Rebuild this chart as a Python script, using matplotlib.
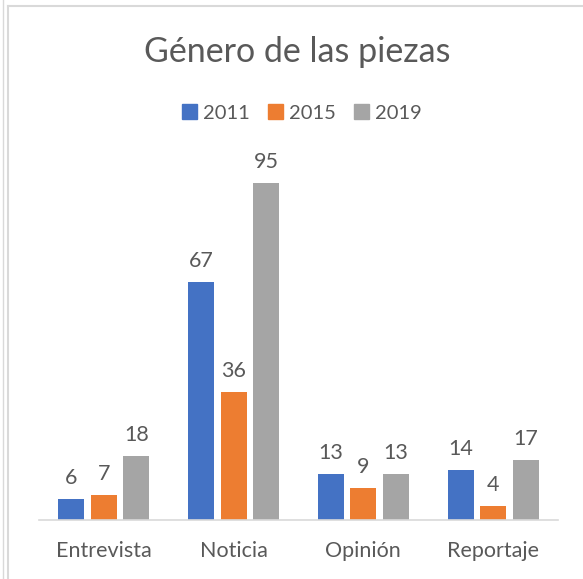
import matplotlib
matplotlib.use("Agg")
import matplotlib.pyplot as plt
from matplotlib.lines import Line2D
import numpy as np

categories = ["Entrevista", "Noticia", "Opinión", "Reportaje"]
series_names = ["2011", "2015", "2019"]
values_2011 = [6, 67, 13, 14]
values_2015 = [7, 36, 9, 4]
values_2019 = [18, 95, 13, 17]
colors = ["#4472C4", "#ED7D31", "#A5A5A5"]

plt.rcParams['font.family'] = ['Lato', 'DejaVu Sans']
text_color = "#595959"

fig = plt.figure(figsize=(5.83, 5.79), dpi=100)
ax = fig.add_axes([39/583, 1-520/579, (558-39)/583, (520-165)/579])

x = np.arange(len(categories))
width = 0.2
step = 0.25
for i, (vals, name, c) in enumerate(zip([values_2011, values_2015, values_2019], series_names, colors)):
    pos = x + (i - 1) * step
    bars = ax.bar(pos, vals, width, color=c, label=name)
    for b, v in zip(bars, vals):
        ax.annotate(str(v), (b.get_x() + b.get_width()/2, v), xytext=(0, 8),
                    textcoords="offset points", ha="center", va="bottom",
                    fontsize=15.5, color=text_color)

ax.set_xlim(-0.5, len(categories) - 0.5)
ax.set_ylim(0, 100)
ax.set_xticks(x)
ax.set_xticklabels(categories, fontsize=15.5, color=text_color)
ax.tick_params(axis='x', length=0, pad=15)
ax.set_yticks([])
for s in ["top", "right", "left"]:
    ax.spines[s].set_visible(False)
ax.spines["bottom"].set_color("#D9D9D9")
ax.spines["bottom"].set_linewidth(1.2)

fig.text(297/583, 1-52/579, "Género de las piezas", ha="center", va="center",
         fontsize=24.5, color=text_color)

handles = [plt.Rectangle((0, 0), 1, 1, color=c) for c in colors]
fig.legend(handles, series_names, loc="center", bbox_to_anchor=(302/583, 1-113/579),
           ncol=3, frameon=False, fontsize=14.5, labelcolor=text_color,
           handlelength=0.75, handleheight=0.75, handletextpad=0.3, columnspacing=0.9)

# chart frame lines
fig.add_artist(Line2D([8/583, 1], [1-6/579, 1-6/579], color="#D9D9D9", lw=1.5, transform=fig.transFigure))
fig.add_artist(Line2D([8/583, 8/583], [0, 1-6/579], color="#D9D9D9", lw=1.5, transform=fig.transFigure))
fig.add_artist(Line2D([3/583, 3/583], [0, 1], color="#D9D9D9", lw=1.0, transform=fig.transFigure))

fig.savefig("out.png", dpi=100)
